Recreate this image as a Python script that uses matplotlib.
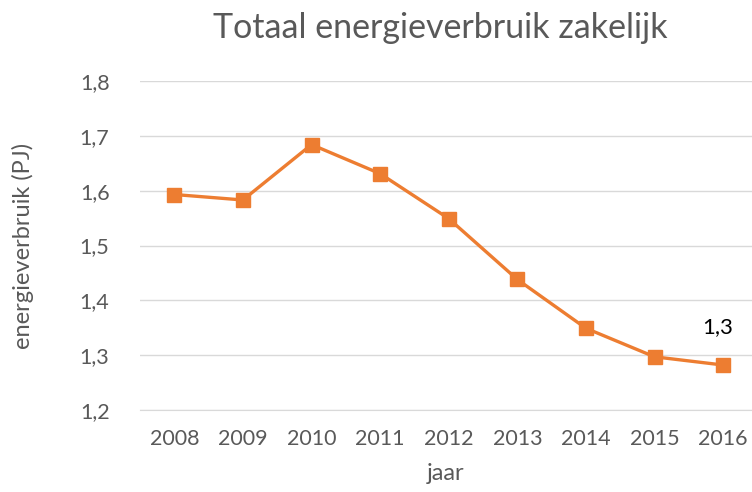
import matplotlib.pyplot as plt
import matplotlib.ticker as mticker

plt.rcParams['font.family'] = ['Lato', 'DejaVu Sans']

jaren = ['2008', '2009', '2010', '2011', '2012', '2013', '2014', '2015', '2016']
verbruik = [1.593, 1.583, 1.684, 1.631, 1.549, 1.438, 1.349, 1.297, 1.282]

grijs = '#595959'
oranje = '#ED7D31'

fig = plt.figure(figsize=(7.52, 4.92), dpi=100)
ax = fig.add_axes([140 / 752, 82 / 492, 612 / 752, 329 / 492])

x = list(range(len(jaren)))
ax.plot(x, verbruik, color=oranje, linewidth=2.4, marker='s', markersize=10)

# label bij het laatste punt
ax.annotate('1,3', (x[-1], verbruik[-1]), xytext=(-4, 20), textcoords='offset points',
            ha='center', va='bottom', fontsize=16, color='black')

ax.set_xlim(-0.5, 8.42)
ax.set_ylim(1.2, 1.8)
ax.set_xticks(x)
ax.set_xticklabels(jaren)
ax.set_yticks([1.2, 1.3, 1.4, 1.5, 1.6, 1.7, 1.8])
ax.yaxis.set_major_formatter(mticker.FuncFormatter(lambda v, p: f'{v:.1f}'.replace('.', ',')))

ax.grid(axis='y', color='#d9d9d9', linewidth=1)
ax.set_axisbelow(True)
for s in ['top', 'right', 'left']:
    ax.spines[s].set_visible(False)
ax.spines['bottom'].set_color('#d9d9d9')
ax.tick_params(axis='both', length=0, labelsize=15.5, colors=grijs)
ax.tick_params(axis='y', pad=22)
ax.tick_params(axis='x', pad=14)

ax.set_xlabel('jaar', fontsize=17, color=grijs, labelpad=10)
ax.set_ylabel('energieverbruik (PJ)', fontsize=17, color=grijs, labelpad=33)
fig.text(440 / 752, 1 - 28 / 492, 'Totaal energieverbruik zakelijk', ha='center', va='center',
         fontsize=24.5, color=grijs)

fig.savefig('out.png', dpi=100)
